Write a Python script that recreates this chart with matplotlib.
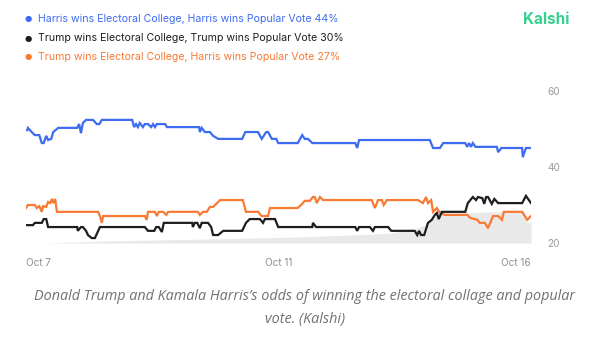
import matplotlib
matplotlib.use("Agg")
import matplotlib.pyplot as plt

# ---- data (days since Oct 7, percent) ----
harris_x = [0.02, 0.03, 0.09, 0.14, 0.21, 0.25, 0.28, 0.32, 0.35, 0.40, 0.43, 0.51, 0.81, 0.84, 0.87, 0.90,
            0.95, 1.06, 1.12, 1.16, 1.20, 1.68, 1.71, 1.74, 1.77, 1.80, 1.85, 1.88, 1.93, 1.98, 2.01, 2.04,
            2.07, 2.20, 2.23, 2.74, 2.75, 2.78, 2.83, 2.91, 2.96, 3.04, 3.42, 3.47, 3.67, 3.73, 3.80, 3.83,
            3.89, 3.96, 3.99, 4.30, 4.37, 4.41, 4.46, 4.53, 5.21, 5.24, 5.27, 6.39, 6.44, 6.55, 6.60, 6.95,
            6.98, 7.01, 7.04, 7.07, 7.11, 7.45, 7.47, 7.52, 7.85, 7.86, 7.91, 7.97]
harris_y = [49.7, 50.3, 49.2, 48.4, 48.4, 46.3, 46.3, 48.2, 47.1, 47.4, 49.2, 50.3, 50.3, 51.3, 48.9, 51.6,
            52.4, 52.4, 51.3, 51.3, 52.4, 52.4, 50.5, 51.3, 50.5, 51.6, 50.5, 51.3, 51.3, 50.5, 51.3, 50.5,
            51.3, 51.3, 50.5, 50.5, 49.2, 50.3, 49.2, 49.2, 48.2, 47.4, 47.4, 49.2, 49.2, 47.4, 49.2, 49.2,
            47.4, 47.4, 46.3, 46.3, 48.4, 47.4, 47.4, 46.3, 46.3, 45.0, 47.1, 47.1, 45.0, 45.0, 46.3, 46.3,
            45.3, 46.3, 45.3, 46.3, 45.3, 45.3, 43.9, 45.0, 45.0, 42.6, 45.0, 45.0]

trump_x = [0.00, 0.11, 0.14, 0.25, 0.28, 0.32, 0.35, 0.81, 0.82, 0.87, 0.90, 0.95, 0.98, 1.04, 1.09, 1.17,
           1.88, 1.93, 2.03, 2.06, 2.10, 2.15, 2.18, 2.63, 2.64, 2.67, 2.71, 2.75, 2.78, 2.88, 2.93, 2.96,
           3.04, 3.12, 3.42, 3.48, 3.54, 3.70, 3.75, 3.78, 3.94, 3.99, 4.53, 4.54, 4.59, 5.21, 5.24, 5.27,
           5.44, 5.49, 5.52, 5.73, 5.78, 6.15, 6.19, 6.22, 6.25, 6.30, 6.36, 6.42, 6.47, 6.50, 6.53, 6.58,
           6.95, 6.99, 7.07, 7.12, 7.15, 7.22, 7.25, 7.28, 7.31, 7.37, 7.41, 7.47, 7.85, 7.91, 7.99]
trump_y = [24.7, 24.7, 25.3, 25.3, 26.3, 26.3, 24.2, 24.2, 23.2, 24.2, 24.2, 23.2, 22.1, 21.3, 21.3, 24.2,
           24.2, 23.2, 23.2, 24.2, 24.2, 22.9, 25.3, 25.3, 24.2, 25.3, 25.3, 23.9, 25.3, 25.3, 24.2, 22.1,
           22.1, 23.2, 23.2, 25.3, 26.3, 26.3, 25.3, 26.3, 26.3, 24.2, 24.2, 25.3, 24.2, 24.2, 23.2, 24.2,
           24.2, 23.2, 24.2, 24.2, 23.2, 23.2, 22.1, 23.2, 22.1, 22.1, 25.3, 26.1, 27.4, 27.9, 26.3, 28.2,
           28.2, 30.5, 32.1, 31.3, 32.1, 31.8, 30.3, 32.1, 32.1, 30.3, 31.6, 30.5, 30.5, 32.4, 30.5]

split_x = [0.00, 0.03, 0.14, 0.17, 0.21, 0.25, 0.27, 0.32, 0.35, 0.38, 0.41, 0.43, 0.46, 0.49, 1.14, 1.17,
           1.20, 1.22, 1.88, 1.91, 1.93, 2.04, 2.07, 2.10, 2.17, 2.22, 2.25, 2.72, 2.75, 2.80, 2.86, 2.91,
           2.96, 3.01, 3.07, 3.43, 3.48, 3.67, 3.73, 3.83, 3.86, 4.30, 4.37, 4.41, 4.49, 4.54, 4.57, 4.60,
           4.65, 4.70, 5.47, 5.52, 5.57, 5.63, 5.66, 5.71, 6.20, 6.28, 6.33, 6.36, 6.41, 6.44, 6.50, 6.55,
           6.63, 6.98, 7.03, 7.14, 7.18, 7.26, 7.31, 7.39, 7.47, 7.53, 7.56, 7.85, 7.93, 7.99]
split_y = [29.2, 30.0, 30.0, 29.2, 29.7, 28.2, 29.7, 29.5, 30.8, 30.5, 31.6, 30.5, 31.6, 28.2, 28.2, 27.1,
           25.3, 27.1, 27.1, 26.1, 28.2, 28.2, 27.1, 28.2, 28.2, 27.4, 28.2, 28.2, 27.4, 28.2, 28.2, 29.5,
           29.5, 30.3, 31.3, 31.3, 28.2, 28.2, 27.1, 27.1, 29.2, 29.2, 30.3, 31.1, 31.1, 32.1, 32.1, 30.5,
           32.1, 31.3, 31.3, 29.2, 31.3, 31.3, 30.0, 31.3, 31.3, 30.5, 32.1, 30.5, 31.3, 28.2, 29.2, 27.9,
           27.4, 27.4, 26.6, 26.1, 25.3, 25.3, 23.9, 27.1, 27.1, 26.1, 28.2, 28.2, 26.1, 27.1]

area_x = [0.27, 1.17, 2.75, 4.34, 5.13, 5.76, 6.15, 6.31, 6.42, 6.55, 6.95, 7.34, 7.88, 7.91, 7.99]
area_y = [20.0, 20.5, 21.0, 21.6, 22.1, 22.6, 23.7, 24.7, 26.3, 27.4, 27.9, 28.2, 28.2, 25.5, 25.5]

legend_labels = ["Harris wins Electoral College, Harris wins Popular Vote 44%",
                 "Trump wins Electoral College, Trump wins Popular Vote 30%",
                 "Trump wins Electoral College, Harris wins Popular Vote 27%"]
x_ticks = [0, 4, 7.99]
x_ticklabels = ["Oct 7", "Oct 11", "Oct 16"]
y_ticks = [20, 40, 60]

BLUE = "#3d6cf2"
BLACK = "#1e1e1e"
ORANGE = "#f97a33"
colors = [BLUE, BLACK, ORANGE]

W, H = 611, 338
fig = plt.figure(figsize=(W / 100, H / 100), dpi=100)
fig.patch.set_facecolor("white")

ax = fig.add_axes([26 / W, (H - 243) / H, (531 - 26) / W, (243 - 91) / H])
ax.set_facecolor("none")
ax.fill_between(area_x, 20, area_y, color="#e9e9e9", lw=0, zorder=1)
ax.plot(split_x, split_y, color=ORANGE, lw=1.6, zorder=3, solid_joinstyle="miter")
ax.plot(trump_x, trump_y, color=BLACK, lw=1.6, zorder=4, solid_joinstyle="miter")
ax.plot(harris_x, harris_y, color=BLUE, lw=1.6, zorder=5, solid_joinstyle="miter")

ax.set_xlim(0, 7.99)
ax.set_ylim(20, 60)
for s in ax.spines.values():
    s.set_visible(False)
ax.yaxis.tick_right()
ax.set_yticks(y_ticks)
ax.set_yticklabels([str(v) for v in y_ticks])
ax.tick_params(axis="y", length=0, pad=11.5, labelsize=7.2, labelcolor="#9a9a9a")
ax.set_xticks(x_ticks)
ax.set_xticklabels(x_ticklabels)
ax.tick_params(axis="x", length=0, pad=11, labelsize=7.2, labelcolor="#8f8f8f")
xl = ax.get_xticklabels()
xl[0].set_ha("left")
xl[2].set_ha("right")
for t in ax.get_xticklabels() + ax.get_yticklabels():
    t.set_family("Inter")

# legend
rows_y = [19, 38, 57]
for lab, c, ry in zip(legend_labels, colors, rows_y):
    fig.text(28 / W, 1 - ry / H, "\u25cf", color=c, fontsize=6, ha="center", va="center",
             family="DejaVu Sans")
    fig.text(38 / W, 1 - ry / H, lab, color=c, fontsize=7.6, ha="left", va="center",
             family="Inter")

fig.text(546 / W, 1 - 19 / H, "Kalshi", color="#35d08e", fontsize=11, fontweight="bold",
         ha="center", va="center", family="Inter")

fig.text(305 / W, 1 - 297 / H,
         "Donald Trump and Kamala Harris\u2019s odds of winning the electoral collage and popular",
         color="#717171", fontsize=10.4, style="italic", ha="center", va="center", family="Open Sans")
fig.text(305 / W, 1 - 319 / H, "vote. (Kalshi)",
         color="#717171", fontsize=10.4, style="italic", ha="center", va="center", family="Open Sans")

fig.savefig("out.png", dpi=100, facecolor="white")
